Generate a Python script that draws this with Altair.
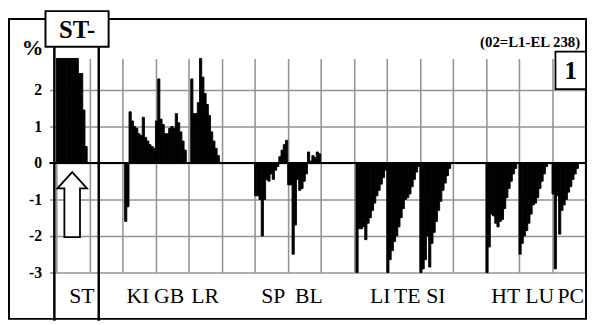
import altair as alt
import pandas as pd

# ---- data (bar index units: 240 slots, grid every 15) ----
ST = [2.86, 2.86, 2.86, 2.86, 2.86, 2.86, 2.86, 2.86, 2.86, 2.86, 2.45, 2.45, 1.45, 0.45]
KI = [-1.6, -1.2, 1.4, 1.15, 1.0, 0.95, 0.8, 0.75, 1.25, 0.7, 0.6, 0.5, 0.45, 0.4]
GB = [1.15, 2.3, 1.2, 1.05, 0.8, 0.8, 0.95, 1.0, 0.95, 1.35, 1.1, 0.85, 0.6, 0.35]
LR = [2.3, 1.35, 1.35, 1.65, 2.86, 2.35, 1.9, 1.6, 1.3, 0.85, 0.6, 0.4, 0.2]
SP = [-0.9, -0.9, -1.0, -2.0, -1.0, -0.45, -0.5, -0.3, -0.45, -0.2, -0.1, 0.17, 0.35, 0.5, 0.62]
BL = [-0.6, -0.6, -2.5, -1.7, -0.45, -0.75, -0.7, -0.5, -0.3, 0.3, 0.05, 0.2, 0.15, 0.3, 0.25]
LI = [-3.0, -1.8, -1.8, -1.75, -2.1, -1.65, -1.5, -1.3, -1.1, -0.9, -0.75, -0.58, -0.4, -0.2]
TE = [-3.0, -2.65, -2.4, -2.15, -2.0, -1.75, -1.5, -1.25, -1.0, -0.95, -0.85, -0.65, -0.45, -0.25, -0.1]
SI = [-3.0, -2.9, -2.65, -2.0, -2.85, -2.2, -1.9, -1.6, -1.3, -1.05, -0.75, -0.55, -0.35, -0.15]
HT = [-3.0, -2.3, -1.4, -1.45, -1.65, -1.75, -1.6, -1.55, -1.25, -0.95, -0.7, -0.5, -0.3, -0.15]
LU = [-2.5, -2.2, -2.0, -1.85, -1.65, -1.4, -1.15, -1.1, -0.95, -0.7, -0.5, -0.3, -0.1]
PC = [-0.85, -2.9, -0.9, -1.95, -1.3, -1.15, -1.0, -0.8, -0.65, -0.45, -0.3, -0.15]

group_series = [ST, KI, GB, LR, SP, BL, LI, TE, SI, HT, LU, PC]
group_start = [0, 31, 45, 61, 90, 105, 136, 150, 165, 195, 210, 225]

tissue_labels = ["ST", "KI", "GB", "LR", "SP", "BL", "LI", "TE", "SI", "HT", "LU", "PC"]
label_centre = [11.6, 37.0, 51.2, 67.5, 98.5, 114.6, 147.0, 159.3, 172.3, 204.0, 219.4, 233.5]

y_ticks = [-3, -2, -1, 0, 1, 2]

# arrow annotation: centre in data units
arrow_x = [7.2]
arrow_y = [-1.14]
ARROW_PATH = "M0,-1 L0.455,-0.5 L0.24,-0.5 L0.24,1 L-0.24,1 L-0.24,-0.5 L-0.455,-0.5 Z"

rows = []
for start, vals in zip(group_start, group_series):
    for i, v in enumerate(vals):
        if v != 0:
            rows.append({"x0": start + i, "x1": start + i + 1, "v": v})
bars_df = pd.DataFrame(rows)
lab_df = pd.DataFrame({"lab": tissue_labels, "lx": label_centre})
arrow_df = pd.DataFrame({"ax": arrow_x, "ay": arrow_y})
one = pd.DataFrame({"a": [0]})

SERIF = "'Liberation Serif', 'Times New Roman', Times, 'DejaVu Serif', serif"
GRID = "#959595"

xs = alt.Scale(domain=[0, 240], nice=False, zero=False)
ys = alt.Scale(domain=[-3, 2.86], nice=False, zero=False)
xaxis = alt.Axis(values=list(range(0, 241, 15)), labels=False, ticks=False,
                 domain=False, grid=True, gridColor=GRID, gridWidth=1.6, title=None)
yaxis = alt.Axis(values=y_ticks, grid=True, gridColor=GRID, gridWidth=1.6,
                 tickColor=GRID, tickWidth=1.6, tickSize=7, domain=False, title=None,
                 labelFont=SERIF, labelFontWeight="bold", labelFontSize=16,
                 labelColor="black", labelPadding=8,
                 labelExpr="(datum.value < 0 ? '-' : '') + abs(datum.value)")

frame = alt.Chart(one).mark_rect(filled=False, stroke="black", strokeWidth=2).encode(
    x=alt.value(-48), x2=alt.value(537), y=alt.value(-40), y2=alt.value(264))

bars = alt.Chart(bars_df).mark_rect(color="black", stroke="black", strokeWidth=0.9).encode(
    x=alt.X("x0:Q", scale=xs, axis=xaxis),
    x2="x1:Q",
    y=alt.Y("v:Q", scale=ys, axis=yaxis),
    y2=alt.datum(0),
)

zero = alt.Chart(one).mark_rule(color="black", strokeWidth=2).encode(
    y=alt.datum(0), x=alt.value(-7), x2=alt.value(536))

arrow = alt.Chart(arrow_df).mark_point(shape=ARROW_PATH, size=4356, filled=True,
                                       fill="white", stroke="black", strokeWidth=1.8,
                                       opacity=1).encode(
    x=alt.X("ax:Q", scale=xs, axis=xaxis),
    y=alt.Y("ay:Q", scale=ys, axis=yaxis),
)

vlines = alt.Chart(pd.DataFrame({"px": [-2, 43]})).mark_rule(color="black", strokeWidth=2.5).encode(
    x=alt.X("px:Q", scale=None), y=alt.value(-12), y2=alt.value(266))

st_box = alt.Chart(one).mark_rect(fill="white", stroke="black", strokeWidth=2).encode(
    x=alt.value(-11), x2=alt.value(53), y=alt.value(-48), y2=alt.value(-12))
st_text = alt.Chart(one).mark_text(font=SERIF, fontWeight="bold", fontSize=25,
                                   align="center", baseline="middle").encode(
    x=alt.value(21), y=alt.value(-29), text=alt.value("ST-"))

pct = alt.Chart(one).mark_text(font=SERIF, fontWeight="bold", fontSize=22,
                               align="center", baseline="middle").encode(
    x=alt.value(-24), y=alt.value(-11), text=alt.value("%"))

note = alt.Chart(one).mark_text(font=SERIF, fontWeight="bold", fontSize=15,
                                align="right", baseline="middle").encode(
    x=alt.value(531), y=alt.value(-17), text=alt.value("(02=L1-EL 238)"))

one_box = alt.Chart(one).mark_rect(fill="white", stroke="black", strokeWidth=1.8).encode(
    x=alt.value(506), x2=alt.value(537), y=alt.value(-7), y2=alt.value(31))
one_text = alt.Chart(one).mark_text(font=SERIF, fontWeight="bold", fontSize=26,
                                    align="center", baseline="middle").encode(
    x=alt.value(521.5), y=alt.value(13), text=alt.value("1"))

labels = alt.Chart(lab_df).mark_text(font=SERIF, fontSize=22, align="center",
                                     baseline="middle", color="black").encode(
    x=alt.X("lx:Q", scale=xs, axis=xaxis),
    y=alt.value(241),
    text="lab:N",
)

chart = alt.layer(frame, bars, zero, arrow, vlines, st_box, st_text, pct, note,
                  one_box, one_text, labels).properties(
    width=536, height=217,
    padding={"left": 49, "top": 49, "right": 3, "bottom": 49},
    autosize=alt.AutoSizeParams(type="none"),
    background="white",
).configure_view(stroke=None)

chart.save("out.html", embed_options={"renderer": "svg", "actions": False})
